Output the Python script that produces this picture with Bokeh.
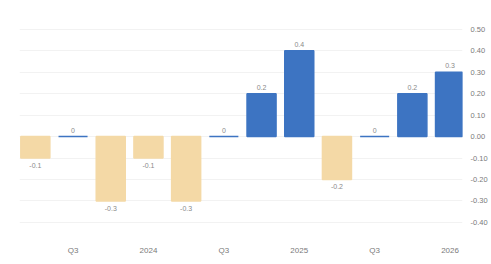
from bokeh.plotting import figure
from bokeh.models import ColumnDataSource, LinearAxis, FixedTicker, Range1d, CustomJSTickFormatter
from bokeh.core.properties import value
from bokeh.embed import file_html
from bokeh.resources import INLINE

periods = ["Q2 2023", "Q3 2023", "Q4 2023", "Q1 2024", "Q2 2024", "Q3 2024",
           "Q4 2024", "Q1 2025", "Q2 2025", "Q3 2025", "Q4 2025", "Q1 2026"]
values = [-0.1, 0.0, -0.3, -0.1, -0.3, 0.0, 0.2, 0.4, -0.2, 0.0, 0.2, 0.3]
tick_idx = [1, 3, 5, 7, 9, 11]
tick_labels = ["Q3", "2024", "Q3", "2025", "Q3", "2026"]
y_ticks = [-0.4, -0.3, -0.2, -0.1, 0.0, 0.1, 0.2, 0.3, 0.4, 0.5]

BLUE = "#3d74c2"
TAN = "#f4d9a6"

xs = list(range(len(values)))
colors = [BLUE if v >= 0 else TAN for v in values]
labels = [("%g" % v) if v != 0 else "0" for v in values]

src = ColumnDataSource(dict(x=xs, top=values, color=colors, label=labels))

p = figure(width=490, height=263, output_backend="svg", toolbar_location=None,
           x_range=Range1d(-0.42, 11.33), y_range=Range1d(-0.48, 0.56),
           min_border_left=19, min_border_top=16, min_border_right=25, min_border_bottom=24)
p.outline_line_color = None
p.background_fill_color = "white"
p.border_fill_color = "white"

p.vbar(x="x", top="top", bottom=0, width=0.77, fill_color="color",
       line_color="color", line_width=1.5, source=src)

pos = ColumnDataSource(dict(x=[x for x, v in zip(xs, values) if v >= 0],
                            y=[v for v in values if v >= 0],
                            t=[l for l, v in zip(labels, values) if v >= 0]))
neg = ColumnDataSource(dict(x=[x for x, v in zip(xs, values) if v < 0],
                            y=[v for v in values if v < 0],
                            t=[l for l, v in zip(labels, values) if v < 0]))
p.text(x="x", y="y", text="t", source=pos, text_align="center", text_baseline="bottom",
       y_offset=-4, text_font_size="7px", text_color="#8a8a8a", text_font=value("Liberation Sans"))
p.text(x="x", y="y", text="t", source=neg, text_align="center", text_baseline="top",
       y_offset=5, text_font_size="7px", text_color="#8a8a8a", text_font=value("Liberation Sans"))

# axes
p.yaxis.visible = False
yax = LinearAxis(ticker=FixedTicker(ticks=y_ticks))
yax.formatter = CustomJSTickFormatter(code="return tick.toFixed(2);")
yax.axis_line_color = None
yax.major_tick_line_color = None
yax.minor_tick_line_color = None
yax.major_label_text_font_size = "7.5px"
yax.major_label_text_color = "#7a7a7a"
yax.major_label_text_font = "Liberation Sans"
yax.major_label_standoff = 2
p.add_layout(yax, "right")

p.xaxis.ticker = FixedTicker(ticks=tick_idx)
p.xaxis.major_label_overrides = {i: l for i, l in zip(tick_idx, tick_labels)}
p.xaxis.axis_line_color = None
p.xaxis.major_tick_line_color = None
p.xaxis.minor_tick_line_color = None
p.xaxis.major_label_text_font_size = "8px"
p.xaxis.major_label_text_color = "#7a7a7a"
p.xaxis.major_label_text_font = "Liberation Sans"
p.xaxis.major_label_standoff = 0

p.xgrid.visible = False
p.ygrid.ticker = FixedTicker(ticks=y_ticks)
p.ygrid.grid_line_color = "#f2f2f2"
p.ygrid.grid_line_width = 1

open("out.html", "w").write(file_html(p, INLINE))
